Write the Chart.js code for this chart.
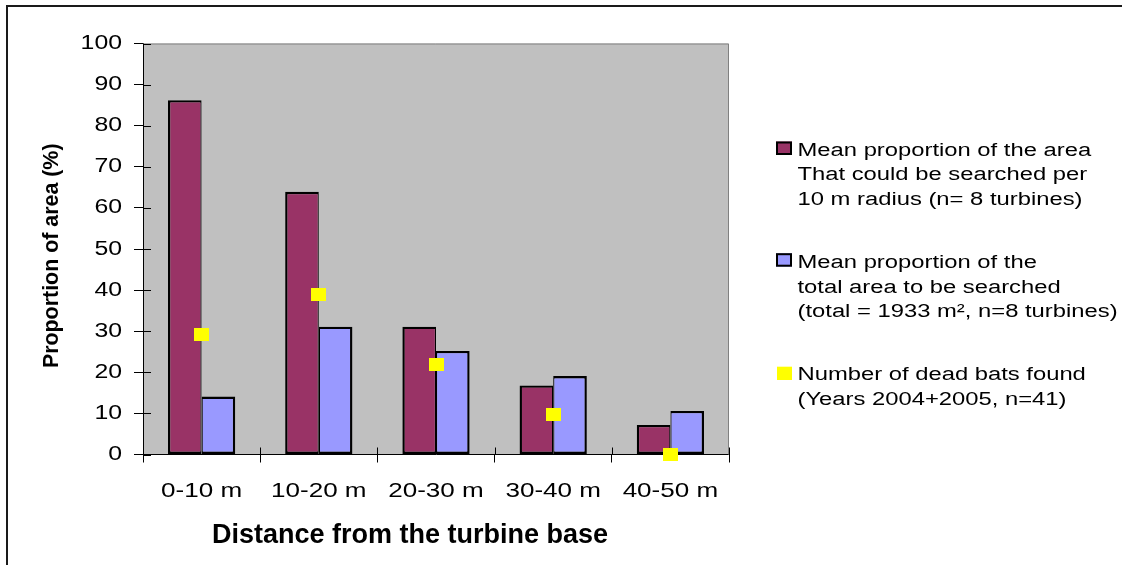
<!DOCTYPE html>
<html>
<head>
<meta charset="utf-8">
<script src="https://cdn.jsdelivr.net/npm/chart.js@4.4.1/dist/chart.umd.min.js"></script>
<style>
  html, body { margin: 0; padding: 0; background: #ffffff; }
  #c { display: block; }
</style>
</head>
<body>
<canvas id="c" width="1122" height="565"></canvas>
<script>
// Distance bands around the turbine base
const categories = ['0-10 m', '10-20 m', '20-30 m', '30-40 m', '40-50 m'];

// Mean proportion of each 10 m ring that could be searched (%)
const searchableShare = [86.2, 63.9, 31.1, 16.8, 7.2];

// Mean proportion of the total area to be searched that lies in each ring (%)
const totalAreaShare = [14.1, 31.1, 25.2, 19.1, 10.6];

// Dead bats found per ring, as % of all finds (12, 16, 9, 4, 0 of n = 41)
const deadBatsShare = [29.3, 39.0, 22.0, 9.8, 0];

const seriesLabels = [
  ['Mean proportion of the area', 'That could be searched per', '10 m radius (n= 8 turbines)'],
  ['Mean proportion of the', 'total area to be searched', '(total = 1933 m\u00b2, n=8 turbines)'],
  ['Number of dead bats found', '(Years 2004+2005, n=41)']
];

const xTitle = 'Distance from the turbine base';
const yTitle = 'Proportion of area (%)';

const FONT = '"Liberation Sans", Arial, sans-serif';
const TEXT_STRETCH = 1.24;

const canvas = document.getElementById('c');
const ctx = canvas.getContext('2d');

// Regular-weight horizontal text is set in a wide face: stretch it sideways
// around its anchor. Bold titles and rotated text are drawn unchanged.
const plainFillText = ctx.fillText.bind(ctx);
ctx.fillText = function (text, x, y) {
  const m = ctx.getTransform();
  const rotated = Math.abs(m.b) > 1e-6 || Math.abs(m.c) > 1e-6;
  if (rotated || /bold/.test(ctx.font)) {
    plainFillText(text, x, y);
    return;
  }
  ctx.save();
  ctx.translate(x, y);
  ctx.scale(TEXT_STRETCH, 1);
  plainFillText(text, 0, 0);
  ctx.restore();
};

// Square marker for the dead-bat series
function makeMarker(w, h, color) {
  const m = document.createElement('canvas');
  m.width = w; m.height = h;
  const mc = m.getContext('2d');
  mc.fillStyle = color;
  mc.fillRect(0, 0, w, h);
  return m;
}
const batMarker = makeMarker(15, 13, '#FFFF00');

const COLORS = ['#993366', '#9999FF', '#FFFF00'];

// White page, outer frame and grey plot background
const backdrop = {
  id: 'backdrop',
  beforeDraw(chart) {
    const c = chart.ctx;
    const a = chart.chartArea;
    c.save();
    c.fillStyle = '#ffffff';
    c.fillRect(0, 0, chart.width, chart.height);
    c.strokeStyle = '#1a1a1a';
    c.lineWidth = 2;
    c.beginPath();
    c.moveTo(7, chart.height + 2);
    c.lineTo(7, 6);
    c.lineTo(chart.width + 2, 6);
    c.stroke();
    c.fillStyle = '#C0C0C0';
    c.fillRect(a.left, a.top, a.right - a.left, a.bottom - a.top);
    c.restore();
  },
  beforeDatasetsDraw(chart) {
    const c = chart.ctx;
    const a = chart.chartArea;
    const xs = chart.scales.x;
    const ys = chart.scales.y;
    c.save();
    // grey frame on the open sides of the plot area
    c.strokeStyle = '#808080';
    c.lineWidth = 1;
    c.beginPath();
    c.moveTo(a.left, a.top + 0.5);
    c.lineTo(a.right - 0.5, a.top + 0.5);
    c.lineTo(a.right - 0.5, a.bottom);
    c.stroke();
    // tick marks cross the axes: inner halves
    c.strokeStyle = '#000000';
    c.beginPath();
    for (let i = 0; i <= categories.length; i++) {
      const px = Math.round(xs.getPixelForValue(i - 0.5)) + 0.5;
      c.moveTo(px, a.bottom);
      c.lineTo(px, a.bottom - 7);
    }
    ys.ticks.forEach(t => {
      const py = Math.round(ys.getPixelForValue(t.value)) + 0.5;
      c.moveTo(a.left, py);
      c.lineTo(a.left + 8, py);
    });
    c.stroke();
    c.restore();
  }
};

// Axis titles and the legend on the right, with wrapped series names
const annotations = {
  id: 'annotations',
  afterDraw(chart) {
    const c = chart.ctx;
    c.save();
    c.fillStyle = '#000000';

    // axis titles
    c.font = 'bold 27px ' + FONT;
    c.textAlign = 'center';
    c.textBaseline = 'alphabetic';
    c.fillText(xTitle, 410, 542.5);

    c.save();
    c.translate(52.5, 255.8);
    c.rotate(-Math.PI / 2);
    c.font = 'bold 21.4px ' + FONT;
    c.textAlign = 'center';
    c.textBaseline = 'middle';
    c.fillText(yTitle, 0, 0);
    c.restore();

    // legend
    const entries = [
      { swatchTop: 141.5, firstBaseline: 155.7, outline: true },
      { swatchTop: 253.2, firstBaseline: 268.2, outline: true },
      { swatchTop: 366.7, firstBaseline: 380.2, outline: false }
    ];
    const lineGap = 24.5;
    c.font = '19.2px ' + FONT;
    c.textAlign = 'left';
    c.textBaseline = 'alphabetic';
    entries.forEach((e, i) => {
      c.fillStyle = COLORS[i];
      if (e.outline) {
        c.fillRect(776, e.swatchTop, 16, 13.5);
        c.strokeStyle = '#000000';
        c.lineWidth = 2;
        c.strokeRect(777, e.swatchTop + 1, 14, 11.5);
      } else {
        c.fillRect(777, e.swatchTop, 15, 13.3);
      }
      c.fillStyle = '#000000';
      seriesLabels[i].forEach((line, k) => {
        c.fillText(line, 797.5, e.firstBaseline + k * lineGap);
      });
    });
    c.restore();
  }
};

new Chart(ctx, {
  data: {
    labels: categories,
    datasets: [
      {
        type: 'line',
        label: seriesLabels[2].join(' '),
        data: deadBatsShare,
        showLine: false,
        pointStyle: batMarker,
        pointRadius: 7.5,
        pointHoverRadius: 7.5,
        backgroundColor: COLORS[2],
        borderWidth: 0,
        clip: false,
        order: 0
      },
      {
        type: 'bar',
        label: seriesLabels[0].join(' '),
        data: searchableShare,
        backgroundColor: COLORS[0],
        borderColor: '#000000',
        borderWidth: { top: 2.4, left: 2.4, right: 1.2, bottom: 2.4 },
        borderSkipped: false,
        categoryPercentage: 0.574,
        barPercentage: 1,
        order: 1
      },
      {
        type: 'bar',
        label: seriesLabels[1].join(' '),
        data: totalAreaShare,
        backgroundColor: COLORS[1],
        borderColor: '#000000',
        borderWidth: { top: 2.4, left: 1.2, right: 2.4, bottom: 2.4 },
        borderSkipped: false,
        categoryPercentage: 0.574,
        barPercentage: 1,
        order: 1
      }
    ]
  },
  options: {
    responsive: false,
    animation: false,
    devicePixelRatio: 1,
    layout: { padding: { left: 0, top: 43.5, right: 393, bottom: 0 } },
    plugins: {
      legend: { display: false },
      tooltip: { enabled: false }
    },
    scales: {
      x: {
        type: 'category',
        offset: true,
        grid: {
          offset: true,
          drawOnChartArea: false,
          drawTicks: true,
          tickLength: 8,
          color: '#000000',
          tickColor: '#000000'
        },
        border: { display: true, color: '#000000', width: 1 },
        ticks: {
          color: '#000000',
          font: { family: FONT, size: 21 },
          padding: 16,
          autoSkip: false,
          maxRotation: 0,
          minRotation: 0
        },
        afterFit(scale) { scale.height = 110.5; }
      },
      y: {
        min: 0,
        max: 100,
        grid: {
          drawOnChartArea: false,
          drawTicks: true,
          tickLength: 9,
          color: '#000000',
          tickColor: '#000000'
        },
        border: { display: true, color: '#000000', width: 1 },
        ticks: {
          stepSize: 10,
          color: '#000000',
          font: { family: FONT, size: 20 },
          padding: 12
        },
        afterFit(scale) { scale.width = 143; }
      }
    }
  },
  plugins: [backdrop, annotations]
});
</script>
</body>
</html>
